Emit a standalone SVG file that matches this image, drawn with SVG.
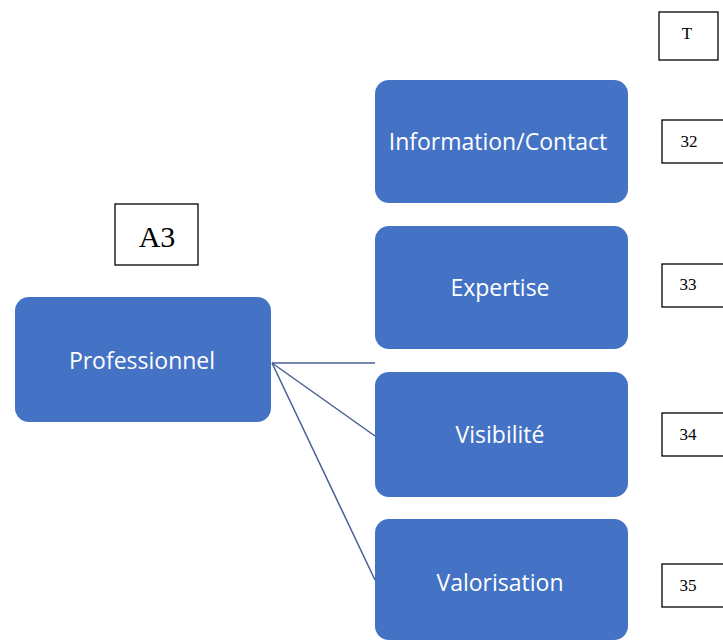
<svg xmlns="http://www.w3.org/2000/svg" width="723" height="643" viewBox="0 0 723 643">
<style>
.node{fill:#4472C4;}
.nt{fill:#ffffff;font-family:"Open Sans","Noto Sans",sans-serif;font-size:23px;text-anchor:middle;dominant-baseline:central;}
.lbl{fill:#ffffff;stroke:#000000;stroke-width:1.3;}
.lt{fill:#000000;font-family:"Liberation Serif",serif;font-size:17px;text-anchor:middle;dominant-baseline:central;}
.conn{stroke:#4A5E93;stroke-width:1.5;fill:none;}
</style>
<rect width="723" height="643" fill="#ffffff"/>
<g id="connectors">
<line class="conn" x1="272" y1="363" x2="375" y2="363"/>
<line class="conn" x1="272" y1="363" x2="375" y2="436"/>
<line class="conn" x1="272" y1="363" x2="375" y2="580"/>
</g>
<g id="professionnel"><rect class="node" x="15" y="297" width="256" height="125" rx="14"/><text class="nt" x="142" y="360">Professionnel</text></g>
<g id="information"><rect class="node" x="375" y="80" width="253" height="123" rx="14"/><text class="nt" x="498" y="141">Information/Contact</text></g>
<g id="expertise"><rect class="node" x="375" y="226" width="253" height="123" rx="14"/><text class="nt" x="500" y="287">Expertise</text></g>
<g id="visibilite"><rect class="node" x="375" y="372" width="253" height="125" rx="14"/><text class="nt" x="500" y="434">Visibilité</text></g>
<g id="valorisation"><rect class="node" x="375" y="519" width="253" height="121" rx="14"/><text class="nt" x="500" y="582">Valorisation</text></g>
<g id="label-a3"><rect class="lbl" x="115" y="204" width="83" height="61"/><text x="157" y="236" style="font-family:'Liberation Serif',serif;font-size:30px;text-anchor:middle;dominant-baseline:central;fill:#000">A3</text></g>
<g id="label-t"><rect class="lbl" x="659" y="12" width="59" height="48"/><text class="lt" x="687" y="33">T</text></g>
<g id="label-32"><rect class="lbl" x="662" y="120" width="64" height="43"/><text class="lt" x="689" y="141">32</text></g>
<g id="label-33"><rect class="lbl" x="662" y="264" width="64" height="43"/><text class="lt" x="688" y="284">33</text></g>
<g id="label-34"><rect class="lbl" x="662" y="413" width="64" height="43"/><text class="lt" x="688" y="434">34</text></g>
<g id="label-35"><rect class="lbl" x="662" y="564" width="64" height="43"/><text class="lt" x="688" y="585">35</text></g>
</svg>
